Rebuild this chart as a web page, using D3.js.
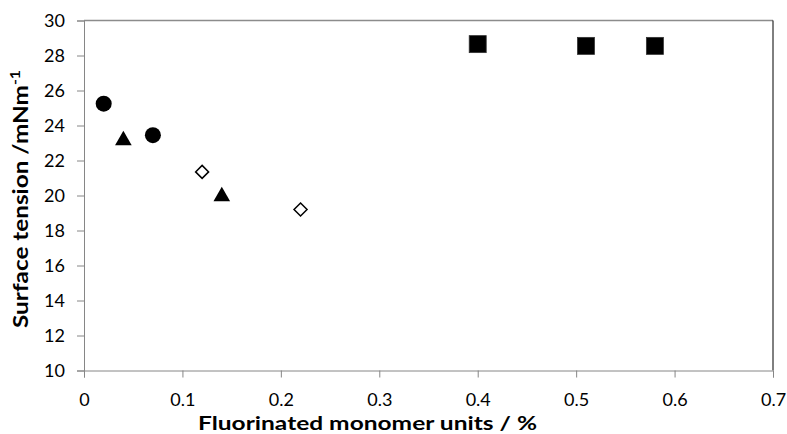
<!DOCTYPE html>
<html><head><meta charset="utf-8">
<script src="https://cdn.jsdelivr.net/npm/d3@7"></script>
<style>body{margin:0;background:#fff}svg{display:block}text{font-family:Lato,"Open Sans",sans-serif}</style>
</head><body>
<svg id="c" width="787" height="434"></svg>
<script>
const circleX = [0.02, 0.07];
const circleY = [25.25, 23.45];
const triangleX = [0.04, 0.14];
const triangleY = [23.15, 19.95];
const diamondX = [0.12, 0.22];
const diamondY = [21.35, 19.2];
const squareX = [0.40, 0.51, 0.58];
const squareY = [28.65, 28.55, 28.55];
const xTicks = [0, 0.1, 0.2, 0.3, 0.4, 0.5, 0.6, 0.7];
const yTicks = [10, 12, 14, 16, 18, 20, 22, 24, 26, 28, 30];

const svg = d3.select("#c");
const L = 84, R = 773, T = 20.5, B = 370.5;
const x = d3.scaleLinear().domain([0, 0.7]).range([L, R]);
const y = d3.scaleLinear().domain([10, 30]).range([B, T]);

svg.append("line").attr("x1", L).attr("x2", R).attr("y1", T).attr("y2", T).attr("stroke", "#8c8c8c").attr("stroke-width", 1.3);
svg.append("line").attr("x1", R).attr("x2", R).attr("y1", T).attr("y2", B).attr("stroke", "#000").attr("stroke-width", 1);

const fmt = d => d === 0 ? "0" : String(d);
const xa = svg.append("g").attr("transform", `translate(0,${B})`)
  .call(d3.axisBottom(x).tickValues(xTicks).tickFormat(fmt).tickSize(7).tickPadding(16));
const ya = svg.append("g").attr("transform", `translate(${L},0)`)
  .call(d3.axisLeft(y).tickValues(yTicks).tickFormat(d3.format("d")).tickSize(7).tickPadding(12));
[xa, ya].forEach(g => {
  g.select(".domain").attr("stroke", "#868686");
  g.selectAll(".tick line").attr("stroke", "#868686");
  g.selectAll(".tick text").attr("fill", "#000").style("font-size", "18px");
});

const g = svg.append("g");
g.selectAll(".ci").data(circleX).join("circle")
  .attr("cx", (d) => x(d)).attr("cy", (d, i) => y(circleY[i])).attr("r", 8).attr("fill", "#000");
g.selectAll(".tr").data(triangleX).join("path")
  .attr("d", d3.symbol(d3.symbolTriangle, 120))
  .attr("transform", (d, i) => `translate(${x(d)},${y(triangleY[i])})`).attr("fill", "#000");
g.selectAll(".di").data(diamondX).join("path")
  .attr("d", "M0,-6.5L6.5,0L0,6.5L-6.5,0Z")
  .attr("transform", (d, i) => `translate(${x(d)},${y(diamondY[i])})`)
  .attr("fill", "#fff").attr("stroke", "#000").attr("stroke-width", 1.5);
g.selectAll(".sq").data(squareX).join("rect")
  .attr("x", d => x(d) - 8.5).attr("y", (d, i) => y(squareY[i]) - 8.5)
  .attr("width", 17).attr("height", 17).attr("fill", "#000")
  .attr("stroke", "#333").attr("stroke-width", 0.8);

svg.append("text").attr("x", 198).attr("y", 430)
  .attr("textLength", 339).attr("lengthAdjust", "spacingAndGlyphs")
  .style("font-size", "18px").style("font-weight", "bold").text("Fluorinated monomer units / %");
const yl = svg.append("text").attr("transform", `translate(28,328) rotate(-90)`)
  .attr("textLength", 258).attr("lengthAdjust", "spacingAndGlyphs")
  .style("font-size", "20px").style("font-weight", "bold");
yl.append("tspan").text("Surface tension /mNm");
yl.append("tspan").attr("dy", -8).style("font-size", "13px").text("-1");
</script>
</body></html>
